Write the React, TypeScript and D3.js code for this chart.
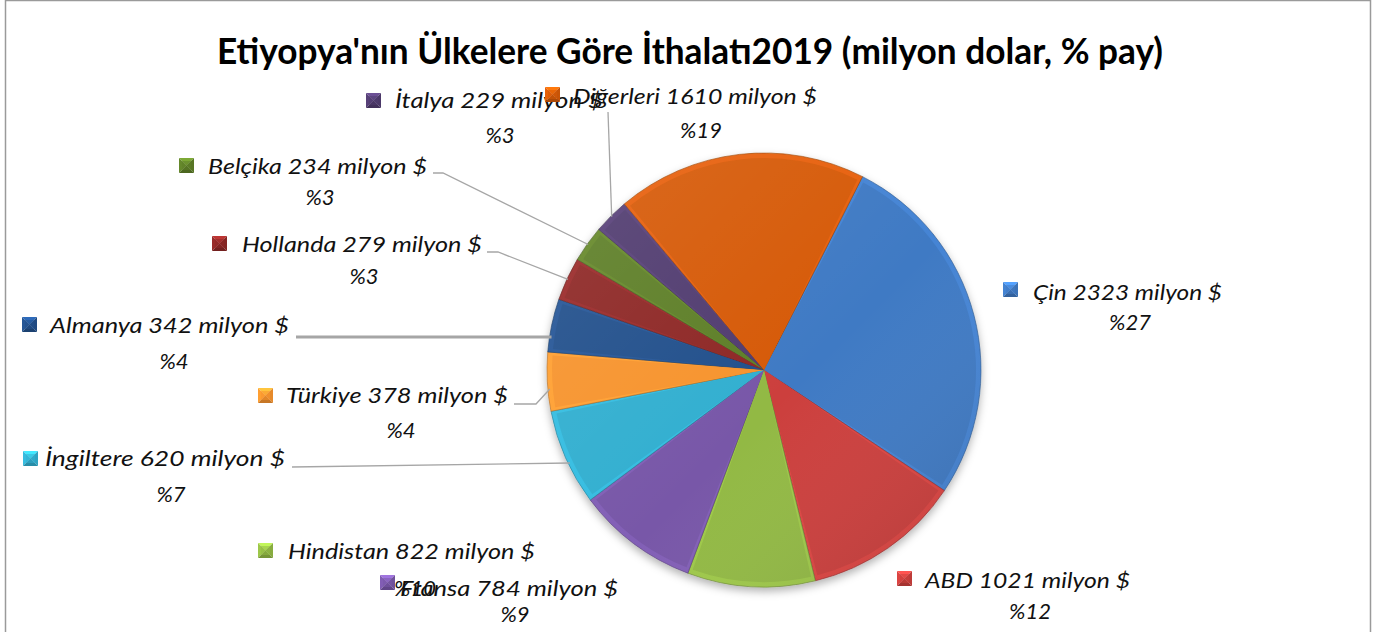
import * as d3 from "d3";
import React from "react";
import { useRef, useEffect } from "react";

// data (milyon $), clockwise from the top-right
const countries = ["Çin", "ABD", "Hindistan", "Fransa", "İngiltere", "Türkiye", "Almanya", "Hollanda", "Belçika", "İtalya", "Diğerleri"];
const imports = [2323, 1021, 822, 784, 620, 378, 342, 279, 234, 229, 1610];

const palette = ["#3f7ac4", "#cc3f3d", "#92b944", "#7857a8", "#32afd0", "#f7942e", "#22508c", "#8e2826", "#5e7f28", "#513c70", "#d65a08"];

const title = "Etiyopya'nın Ülkelere Göre İthalatı2019 (milyon dolar, % pay)";

// where each data label sits (same order as countries)
const labelLayout = [
  { mx: 1003, my: 282, tx: 1033, ty: 300, tw: 189, px: 1130, py: 330 },
  { mx: 897, my: 571, tx: 925, ty: 588, tw: 205, px: 1030, py: 619 },
  { mx: 258, my: 543, tx: 288, ty: 559, tw: 247, px: 415, py: 596 },
  { mx: 380, my: 575, tx: 400, ty: 596, tw: 218, px: 515, py: 622 },
  { mx: 23, my: 451, tx: 45, ty: 466, tw: 240, px: 171, py: 502, leader: [[292, 467]], endY: 463 },
  { mx: 258, my: 388, tx: 286, ty: 403, tw: 222, px: 401, py: 438, leader: [[514, 404], [536, 404]], endY: 389 },
  { mx: 22, my: 317, tx: 50, ty: 333, tw: 239, px: 174, py: 369, leader: [[296, 337]], endY: 337, thick: true },
  { mx: 212, my: 236, tx: 242, ty: 252, tw: 240, px: 364, py: 284, leader: [[487, 252], [498, 252]] },
  { mx: 179, my: 158, tx: 208, ty: 174, tw: 219, px: 320, py: 205, leader: [[433, 173], [443, 173]] },
  { mx: 366, my: 93, tx: 395, ty: 108, tw: 208, px: 500, py: 143, leader: [[608, 112]] },
  { mx: 545, my: 87, tx: 573, ty: 104, tw: 244, px: 701, py: 138 },
];

const width = 1387;
const height = 632;
const cx = 764;
const cy = 370;
const radius = 217;

export default function App() {
  const ref = useRef(null);

  useEffect(() => {
    const svg = d3.select(ref.current);
    svg.selectAll("*").remove();

    const total = d3.sum(imports);
    const start = (27 * Math.PI) / 180;
    const pie = d3.pie().sort(null).value((d) => d).startAngle(start).endAngle(start + 2 * Math.PI);
    const arcs = pie(imports);

    const defs = svg.append("defs");
    const shadow = defs.append("filter").attr("id", "pieShadow").attr("x", "-20%").attr("y", "-20%").attr("width", "140%").attr("height", "140%");
    shadow.append("feDropShadow").attr("dx", 0).attr("dy", 4).attr("stdDeviation", 4).attr("flood-color", "#000").attr("flood-opacity", 0.3);

    const light = defs.append("linearGradient").attr("id", "pieLight").attr("x1", 0).attr("y1", 0).attr("x2", 1).attr("y2", 1);
    light.append("stop").attr("offset", "0%").attr("stop-color", "#fff").attr("stop-opacity", 0.1);
    light.append("stop").attr("offset", "55%").attr("stop-color", "#fff").attr("stop-opacity", 0);
    light.append("stop").attr("offset", "100%").attr("stop-color", "#000").attr("stop-opacity", 0.14);

    // chart frame
    svg.append("rect")
      .attr("x", 5.5).attr("y", 0.5)
      .attr("width", 1365).attr("height", 660)
      .attr("fill", "#fff")
      .attr("stroke", "#9a9a9a").attr("stroke-width", 1.5);

    svg.append("text")
      .attr("x", 690).attr("y", 64)
      .attr("text-anchor", "middle")
      .attr("font-family", "Lato, 'Open Sans', sans-serif")
      .attr("font-weight", 700)
      .attr("font-size", 36)
      .attr("textLength", 946)
      .attr("lengthAdjust", "spacingAndGlyphs")
      .attr("fill", "#000")
      .text(title);

    // pie with a bevel look: slightly lighter rim, base colour inside
    const outer = d3.arc().innerRadius(0).outerRadius(radius);
    const inner = d3.arc().innerRadius(0).outerRadius(radius - 5).padAngle(0.03).padRadius(radius);

    const g = svg.append("g").attr("transform", `translate(${cx},${cy})`);
    const slices = g.append("g").attr("filter", "url(#pieShadow)");
    slices.selectAll("path.rim").data(arcs).enter().append("path")
      .attr("class", "rim")
      .attr("d", outer)
      .attr("fill", (d, i) => d3.color(palette[i]).brighter(0.22).toString())
      .attr("stroke", (d, i) => d3.color(palette[i]).darker(1).toString())
      .attr("stroke-width", 0.6);
    g.selectAll("path.face").data(arcs).enter().append("path")
      .attr("class", "face")
      .attr("d", inner)
      .attr("fill", (d, i) => palette[i]);
    g.append("circle").attr("r", radius).attr("fill", "url(#pieLight)").attr("pointer-events", "none");

    // leader lines
    const lines = svg.append("g").attr("fill", "none").attr("stroke", "#a6a6a6");
    arcs.forEach((a, i) => {
      const lay = labelLayout[i];
      if (!lay.leader) return;
      let end;
      if (lay.endY !== undefined) {
        const dy = lay.endY - cy;
        end = [cx - Math.sqrt(radius * radius - dy * dy) + 2, lay.endY];
      } else {
        const mid = (a.startAngle + a.endAngle) / 2;
        end = [cx + Math.sin(mid) * (radius - 1), cy - Math.cos(mid) * (radius - 1)];
      }
      lines.append("path")
        .attr("d", d3.line()([...lay.leader, end]))
        .attr("stroke-width", lay.thick ? 3 : 1.3);
    });

    // data labels
    const labels = svg.append("g")
      .attr("font-family", "Lato, 'Open Sans', sans-serif")
      .attr("font-style", "italic")
      .attr("font-size", 22)
      .attr("fill", "#111");

    const size = 15;
    countries.forEach((name, i) => {
      const lay = labelLayout[i];
      const c = d3.color(palette[i]);
      const m = labels.append("g").attr("transform", `translate(${lay.mx},${lay.my})`);
      const tri = [
        { p: [[0, 0], [size, 0], [size / 2, size / 2]], f: c.brighter(0.8) },
        { p: [[0, 0], [size / 2, size / 2], [0, size]], f: c.brighter(0.2) },
        { p: [[size, 0], [size, size], [size / 2, size / 2]], f: c.darker(0.2) },
        { p: [[0, size], [size / 2, size / 2], [size, size]], f: c.darker(0.6) },
      ];
      tri.forEach((t) => {
        m.append("path").attr("d", d3.line()(t.p) + "Z").attr("fill", t.f.toString());
      });
      m.append("rect").attr("x", 3).attr("y", 3).attr("width", size - 6).attr("height", size - 6).attr("fill", c.toString()).attr("opacity", 0.55);

      labels.append("text")
        .attr("x", lay.tx).attr("y", lay.ty)
        .attr("textLength", lay.tw)
        .attr("lengthAdjust", "spacingAndGlyphs")
        .text(`${name} ${imports[i]} milyon $`);

      // Hindistan's percent lands on top of the Fransa label, as in the original
      labels.append("text")
        .attr("x", lay.px).attr("y", lay.py)
        .attr("text-anchor", "middle")
        .text(`%${Math.round((imports[i] / total) * 100)}`);
    });
  }, []);

  return (
    <svg
      ref={ref}
      width={width}
      height={height}
      style={{ position: "absolute", left: 0, top: 0, background: "#fff" }}
    />
  );
}
